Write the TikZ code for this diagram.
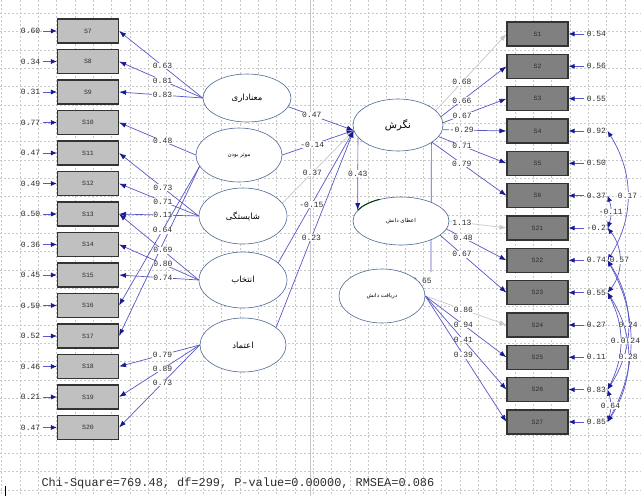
\documentclass[tikz,border=0pt]{standalone}
\usepackage{fontspec}
\usepackage{tikz}
\usetikzlibrary{arrows.meta, shapes.geometric}
\newfontfamily\lisfont{Liberation Mono}
\newfontfamily\fafont[Script=Arabic]{DejaVu Sans}
\TeXXeTstate=1
\newcommand{\fatxt}[1]{{\fafont\beginR #1\endR}}
\definecolor{pathc}{RGB}{88,88,200}
\definecolor{tipc}{RGB}{25,25,150}
\definecolor{fixc}{RGB}{200,200,200}
\definecolor{ellc}{RGB}{75,105,150}
\definecolor{gridc}{RGB}{200,200,200}
\definecolor{boxl}{RGB}{192,192,192}
\definecolor{boxd}{RGB}{128,128,128}
\definecolor{txtc}{RGB}{45,45,45}
\pgfdeclarelayer{grid}
\pgfdeclarelayer{lines}
\pgfsetlayers{grid,lines,main}
\tikzset{
  gridline/.style={gridc, line width=0.5pt, dash pattern=on 2pt off 2pt},
  obs/.style={draw=black!80, line width=1.1pt, minimum width=61pt, minimum height=24pt,
    inner sep=0pt, font=\lisfont\fontsize{6.5}{7}\selectfont, text=txtc},
  obsl/.style={obs, fill=boxl},
  obsr/.style={obs, fill=boxd},
  lat/.style={ellipse, draw=ellc, fill=white, line width=0.6pt, inner sep=0pt,
    font=\fontsize{8.5}{10}\selectfont},
  latsm/.style={lat, font=\fontsize{5.5}{6}\selectfont},
  val/.style={font=\lisfont\fontsize{8}{9}\selectfont, text=txtc, inner sep=0.6pt},
  lbl/.style={val, fill=white},
  load/.style={draw=pathc, line width=0.7pt, -{Latex[length=7pt,width=5pt,color=tipc]}},
  fixed/.style={draw=fixc, line width=0.7pt, -{Latex[length=7pt,width=5pt,color=fixc]}},
  err/.style={draw=pathc, line width=0.8pt, shorten <=2pt,
    -{Latex[length=6pt,width=5pt,color=tipc]}},
  cov/.style={draw=pathc, line width=0.7pt,
    {Latex[length=6pt,width=5pt,color=tipc]}-{Latex[length=6pt,width=5pt,color=tipc]}},
}

\begin{document}
\begin{tikzpicture}[x=1pt, y=-1pt]
\useasboundingbox (0,0) rectangle (641,496);

% background grid
\begin{pgfonlayer}{grid}
\fill[white] (0,0) rectangle (641,496);
\foreach \i in {0,...,34}
  \draw[gridline] ({1.7+18.33*\i},0) -- ++(0,496);
\foreach \j in {0,...,27}
  \draw[gridline] (0,{-5+18.33*\j}) -- ++(641,0);
\draw[gray!45, line width=0.6pt] (310,0) -- (310,496);
\end{pgfonlayer}

% observed variables, left
\foreach \n/\v [count=\k from 0] in {7/0.60, 8/0.34, 9/0.31, 10/0.77, 11/0.47, 12/0.49,
    13/0.50, 14/0.36, 15/0.45, 16/0.59, 17/0.52, 18/0.46, 19/0.21, 20/0.47} {
  \node[obsl] (s\n) at (88,{31+30.5*\k}) {S\n};
  \node[val, anchor=east] (e\n) at (41,{31+30.5*\k}) {\v};
  \draw[err] (e\n) -- (s\n);
}

% observed variables, right
\foreach \n/\v [count=\k from 0] in {1/0.54, 2/0.56, 3/0.55, 4/0.92, 5/0.50, 6/0.37,
    21/-0.27, 22/0.74, 23/0.55, 24/0.27, 25/0.11, 26/0.83, 27/0.85} {
  \node[obsr] (s\n) at (537.5,{34+32.33*\k}) {S\n};
  \node[val, anchor=west] (e\n) at (586,{34+32.33*\k}) {\v};
  \draw[err] (e\n) -- (s\n);
}

% latent variables
\node[lat, minimum width=88pt, minimum height=48pt] (mn) at (247,98) {\fatxt{معناداری}};
\node[latsm, minimum width=86pt, minimum height=54pt] (mb) at (239,155) {\fatxt{موثر بودن}};
\node[lat, minimum width=88pt, minimum height=56pt] (sh) at (243,216) {\fatxt{شایستگی}};
\node[lat, minimum width=88pt, minimum height=56pt] (en) at (243,280) {\fatxt{انتخاب}};
\node[lat, minimum width=86pt, minimum height=54pt] (et) at (243,345) {\fatxt{اعتماد}};
\node[lat, font=\fontsize{10}{12}\selectfont, minimum width=90pt, minimum height=52pt]
  (ng) at (398,125) {\fatxt{نگرش}};
\node[latsm, minimum width=96pt, minimum height=48pt] (ae) at (401,221) {\fatxt{اعطای دانش}};
\node[latsm, minimum width=86pt, minimum height=54pt] (dr) at (382,296) {\fatxt{دریافت دانش}};
\coordinate (c65) at (431,272);

\begin{pgfonlayer}{lines}
% loadings, left
\draw[load] (mn.west) -- node[lbl, pos=.48] {0.63} (s7.east);
\draw[load] (mn.west) -- node[lbl, pos=.48] {0.81} (s8.east);
\draw[load] (mn.west) -- node[lbl, pos=.48] {0.83} (s9.east);
\draw[load] (mb.west) -- node[lbl, pos=.43] {0.48} (s10.east);
\draw[load] (sh.west) -- node[lbl, pos=.45] {0.73} (s11.east);
\draw[load] (sh.west) -- node[lbl, pos=.45] {0.71} (s12.east);
\draw[load] (sh.west) -- node[lbl, pos=.45] {0.11} (s13.east);
\draw[load] (mb.196) -- (s17.east);
\draw[load] (mb.196) -- node[lbl, pos=.46] {0.64} (s16.east);
\draw[load] (en.west) -- node[lbl, pos=.45] {0.69} (s13.east);
\draw[load] (en.west) -- node[lbl, pos=.45] {0.80} (s14.east);
\draw[load] (en.west) -- node[lbl, pos=.45] {0.74} (s15.east);
\draw[load] (et.west) -- node[lbl, pos=.46] {0.79} (s18.east);
\draw[load] (et.west) -- node[lbl, pos=.46] {0.89} (s19.east);
\draw[load] (et.west) -- node[lbl, pos=.46] {0.73} (s20.east);
% structural paths
\draw[load] (mn.-12) -- node[lbl, pos=.36] {0.47} (ng.187);
\draw[load] (mb.east) -- node[lbl, pos=.42] {-0.14} (ng.187);
\draw[fixed] (sh.18) -- node[lbl, pos=.42] {0.37} (ng.187);
\draw[load] (en.26) -- node[lbl, pos=.44] {-0.15} (ng.187);
\draw[load] (et.28) -- node[lbl, pos=.455] {0.23} (ng.187);
\draw[load] (ng.197) -- node[lbl] {0.43} (ae.166);
\draw[draw=pathc, line width=0.7pt] (ng.-28) -- (c65);
\node[lbl] (l65) at (422,281) {0.65};
% loadings, right
\draw[fixed] (ng.21) -- node[lbl, pos=.37] {0.68} (s1.west);
\draw[load] (ng.11) -- node[lbl, pos=.32] {0.66} (s2.west);
\draw[load] (ng.3) -- node[lbl, pos=.30] {0.67} (s3.west);
\draw[load] (ng.-6) -- node[lbl, pos=.30] {-0.29} (s4.west);
\draw[load] (ng.-16) -- node[lbl, pos=.345] {0.71} (s5.west);
\draw[load] (ng.-27) -- node[lbl, pos=.40] {0.79} (s6.west);
\draw[fixed] (ae.0) -- node[lbl, pos=.22] {1.13} (s21.west);
\draw[load] (ae.-10) -- node[lbl, pos=.275] {0.48} (s22.west);
\draw[load] (ae.-20) -- node[lbl, pos=.33] {0.67} (s23.west);
\draw[fixed] (dr.east) -- node[lbl, pos=.47] {0.86} (s24.west);
\draw[load] (dr.east) -- node[lbl, pos=.47] {0.94} (s25.west);
\draw[load] (dr.east) -- node[lbl, pos=.47] {0.41} (s26.west);
\draw[load] (dr.east) -- node[lbl, pos=.47] {0.39} (s27.west);
\end{pgfonlayer}

\draw[black!75!green, line width=1pt] (ae.166) arc[start angle=153.6, end angle=116, x radius=48pt, y radius=24pt];

% error covariances
\draw[cov] ([xshift=39pt]s4.east) to[bend left=32] node[lbl] {0.17} ([xshift=39pt]s22.east);
\draw[cov] ([xshift=39pt]s6.east) to[bend left=20] node[lbl] {-0.11} ([xshift=39pt]s21.east);
\draw[cov] ([xshift=39pt]s21.east) to[bend left=39] node[lbl] {0.57} ([xshift=39pt]s23.east);
\draw[cov] ([xshift=39pt]s22.east) to[bend left=33] node[lbl] {0.24} ([xshift=39pt]s26.east);
\draw[cov] ([xshift=39pt]s23.east) to[bend left=27] node[lbl] {0.06} ([xshift=39pt]s26.east);
\draw[cov] ([xshift=39pt]s22.east) to[bend left=29] node[lbl] {0.24} ([xshift=39pt]s27.east);
\draw[cov] ([xshift=39pt]s23.east) to[bend left=33] node[lbl] {0.28} ([xshift=39pt]s27.east);
\draw[cov] ([xshift=39pt]s26.east) to[bend left=18] node[lbl] {0.64} ([xshift=39pt]s27.east);

% fit statistics
\node[font=\lisfont\fontsize{11.9}{13}\selectfont, text=txtc, anchor=west] (fit) at (38,483)
  {Chi-Square=769.48, df=299, P-value=0.00000, RMSEA=0.086};
\draw[black, line width=0.8pt] (5,486) -- (5,496);
\end{tikzpicture}
\end{document}
